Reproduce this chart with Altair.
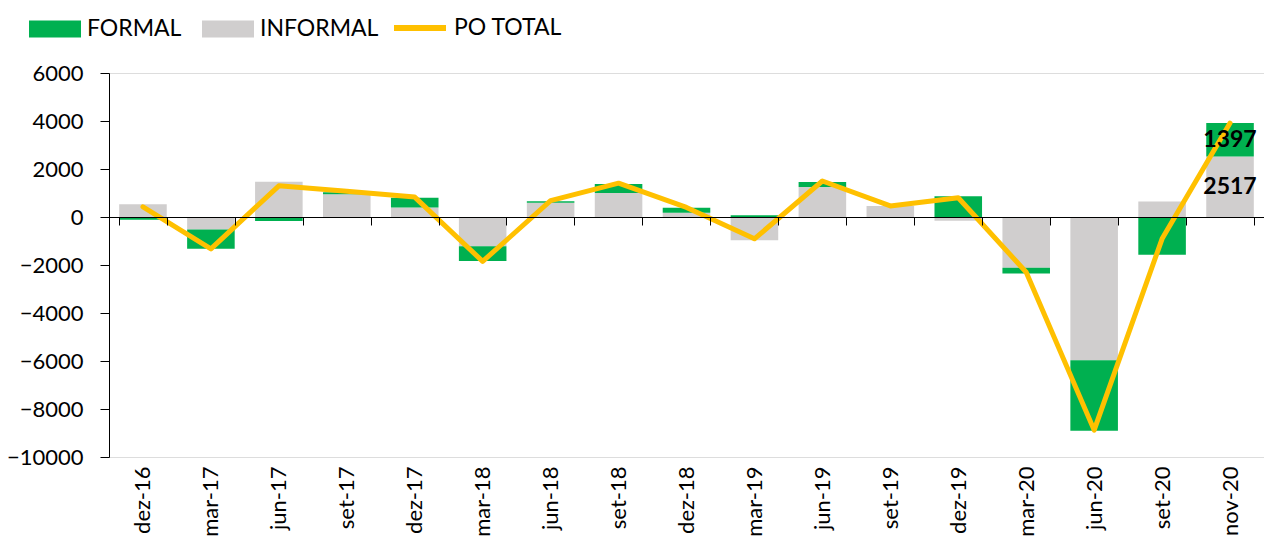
import altair as alt
import pandas as pd

categories = ["dez-16", "mar-17", "jun-17", "set-17", "dez-17", "mar-18", "jun-18", "set-18",
              "dez-18", "mar-19", "jun-19", "set-19", "dez-19", "mar-20", "jun-20", "set-20", "nov-20"]
formal = [-110, -800, -170, 80, 400, -610, 70, 380, 210, 70, 210, 0, 860, -240, -2940, -1570, 1397]
informal = [530, -525, 1470, 950, 400, -1220, 590, 1000, 180, -970, 1250, 460, -160, -2110, -5970, 650, 2517]
po_total = [420, -1330, 1300, 1070, 830, -1850, 680, 1410, 400, -910, 1500, 460, 800, -2300, -8880, -910, 3914]
y_ticks = [-10000, -8000, -6000, -4000, -2000, 0, 2000, 4000, 6000]

bars = []
for c, f, i in zip(categories, formal, informal):
    bars.append({"cat": c, "serie": "INFORMAL", "ord": 0, "v": i})
    bars.append({"cat": c, "serie": "FORMAL", "ord": 1, "v": f})
bars_df = pd.DataFrame(bars)
line_df = pd.DataFrame({"cat": categories, "v": po_total, "serie": "PO TOTAL"})
labels_df = pd.DataFrame({
    "cat": [categories[-1], categories[-1]],
    "pos": [informal[-1] / 2, informal[-1] + formal[-1] / 2],
    "txt": [str(informal[-1]), str(formal[-1])],
})

FONT = "Lato"
xscale = alt.Scale(domain=categories, paddingInner=0.3, paddingOuter=0.15)
yscale = alt.Scale(domain=[-10000, 6000], nice=False, zero=False)
xaxis = alt.Axis(title=None, labelAngle=-90, labelAlign="right", labelBaseline="middle",
                 offset=-240, labelPadding=241, tickBand="extent", tickSize=8,
                 domainColor="black", tickColor="black", labelFont=FONT, labelFontSize=22,
                 labelColor="black", zindex=1, grid=False)
yaxis = alt.Axis(title=None, values=y_ticks, format="d", tickSize=9, labelPadding=17,
                 domainColor="black", tickColor="black", labelFont=FONT, labelFontSize=22,
                 labelColor="black", grid=False, zindex=1)

x_enc = alt.X("cat:N", sort=categories, scale=xscale, axis=xaxis)

bar_layer = alt.Chart(bars_df).mark_bar().encode(
    x=x_enc,
    y=alt.Y("v:Q", stack="zero", scale=yscale, axis=yaxis),
    color=alt.Color("serie:N", scale=alt.Scale(domain=["FORMAL", "INFORMAL"], range=["#00B050", "#D0CECE"]),
                    legend=alt.Legend(title=None, orient="none", legendX=-80, legendY=-70,
                                      direction="horizontal",
                                      symbolType="M-1,-0.327L1,-0.327L1,0.327L-1,0.327Z",
                                      symbolSize=2704, symbolStrokeWidth=0, labelOffset=6,
                                      columnPadding=20, labelFont=FONT, labelFontSize=23,
                                      labelColor="black")),
    order=alt.Order("ord:Q"),
)

line_layer = alt.Chart(line_df).mark_line(strokeWidth=5, strokeJoin="round", strokeCap="round").encode(
    x=x_enc,
    y=alt.Y("v:Q", scale=yscale, axis=yaxis),
    stroke=alt.Stroke("serie:N", scale=alt.Scale(domain=["PO TOTAL"], range=["#FFC000"]),
                      legend=alt.Legend(title=None, orient="none", legendX=282, legendY=-74,
                                        symbolType="stroke", symbolSize=2704, symbolStrokeWidth=6,
                                        labelOffset=5, labelFont=FONT, labelFontSize=23,
                                        labelColor="black")),
)

text_layer = alt.Chart(labels_df).mark_text(font=FONT, fontSize=23, fontWeight="bold",
                                            color="black", align="center", baseline="middle").encode(
    x=x_enc,
    y=alt.Y("pos:Q", scale=yscale, axis=yaxis),
    text="txt:N",
)

chart = alt.layer(bar_layer, line_layer, text_layer).resolve_legend(
    color="independent", stroke="independent"
).properties(
    width=1155, height=384,
    autosize=alt.AutoSizeParams(type="none"),
    padding={"left": 101, "top": 65, "right": 0, "bottom": 86},
).configure_view(stroke=None).configure(background="white")

chart.save("out.html", embed_options={"renderer": "svg", "actions": False})
